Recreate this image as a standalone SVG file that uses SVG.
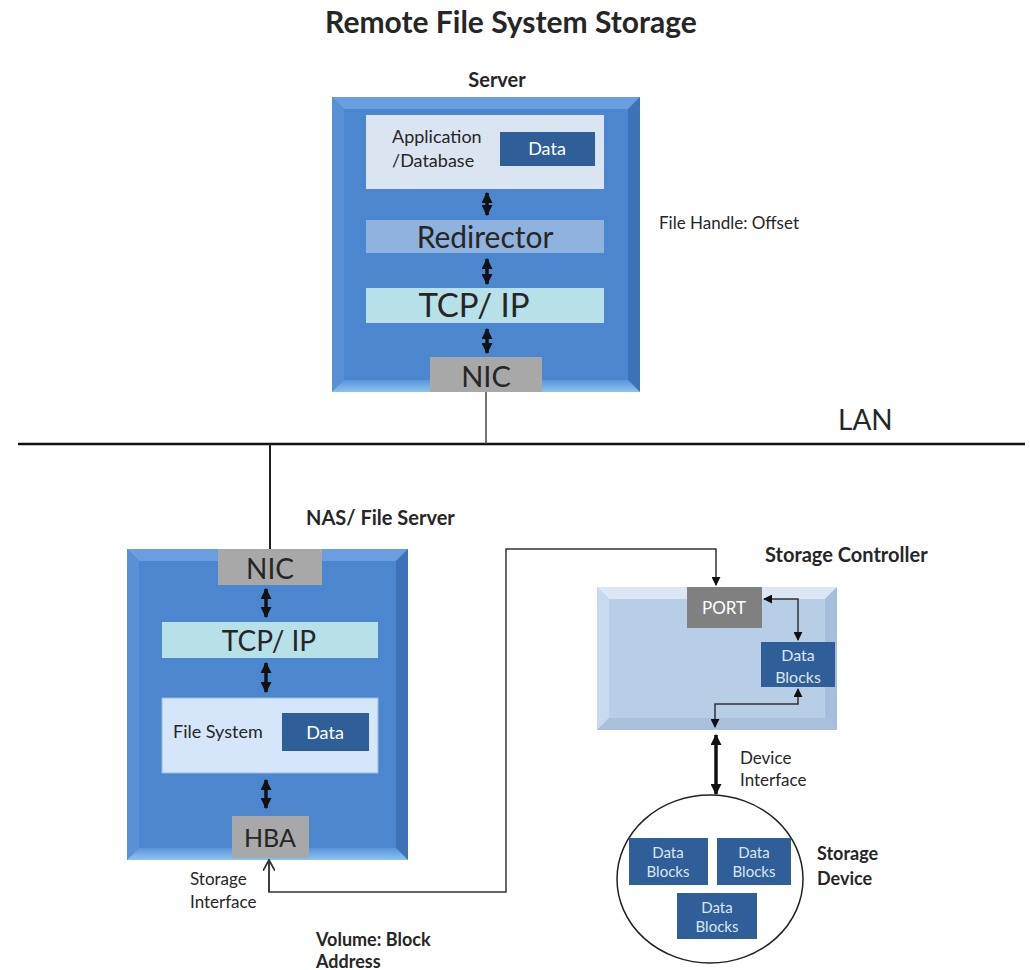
<svg xmlns="http://www.w3.org/2000/svg" width="1030" height="970" viewBox="0 0 1030 970">
<defs>
<style>
.t{font-family:Lato,"Open Sans","Liberation Sans",sans-serif;fill:#262626}
.b{font-weight:bold}
.c{text-anchor:middle}
.w{fill:#fff}
.lb{fill:#dce6f2}
.dark{fill:#2f5e98}
.conn{fill:none;stroke:#333;stroke-width:1.5}
.thick{fill:none;stroke:#111;stroke-width:3.5}
</style>
<marker id="ah" viewBox="0 0 10 10" refX="9" refY="5" markerWidth="9" markerHeight="9" markerUnits="userSpaceOnUse" orient="auto-start-reverse"><path d="M0,0 L10,5 L0,10 z" fill="#111"/></marker>
<marker id="tah" viewBox="0 0 10 10" refX="9" refY="5" markerWidth="11" markerHeight="11" markerUnits="userSpaceOnUse" orient="auto-start-reverse"><path d="M0,0 L10,5 L0,10 z" fill="#111"/></marker>
<marker id="open" viewBox="0 0 10 10" refX="9" refY="5" markerWidth="12" markerHeight="12" markerUnits="userSpaceOnUse" orient="auto"><path d="M0,0 L9,5 L0,10" fill="none" stroke="#333" stroke-width="1.5"/></marker>
<linearGradient id="botL" x1="0" y1="0" x2="0" y2="1"><stop offset="0" stop-color="#5b95dc"/><stop offset="1" stop-color="#8cc3f0"/></linearGradient>
</defs>
<rect width="1030" height="970" fill="#fff"/>

<text class="t b c" x="511" y="33" font-size="30">Remote File System Storage</text>

<g id="server">
<text class="t b c" x="497" y="87" font-size="20">Server</text>
<rect x="332" y="97" width="308" height="295" fill="#4c86cf"/>
<polygon points="332,97 640,97 628,109 344,109" fill="#6a9ede"/>
<polygon points="332,97 344,109 344,380 332,392" fill="#5a90d6"/>
<polygon points="640,97 640,392 628,380 628,109" fill="#3e72b8"/>
<polygon points="332,392 344,380 628,380 640,392" fill="url(#botL)"/>
<rect x="366" y="115" width="238" height="74" fill="#dbe5f2"/>
<text class="t" x="392" y="143" font-size="18">Application</text>
<text class="t" x="392" y="167" font-size="18">/Database</text>
<rect x="500" y="132" width="95" height="34" class="dark"/>
<text class="t c w" x="547" y="155" font-size="18">Data</text>
<rect x="366" y="220" width="238" height="33" fill="#8fb2de"/>
<text class="t c" x="485" y="248" font-size="30">Redirector</text>
<rect x="366" y="288" width="238" height="35" fill="#b7e0e8"/>
<text class="t c" x="474" y="317" font-size="33">TCP/ IP</text>
<rect x="430" y="357" width="112" height="35" fill="#a8a8a8"/>
<text class="t c" x="486" y="387" font-size="29">NIC</text>
</g>

<text class="t" x="659" y="229" font-size="17">File Handle: Offset</text>
<text class="t" x="838" y="430" font-size="28">LAN</text>

<g id="nas">
<text class="t b" x="306" y="525" font-size="20">NAS/ File Server</text>
<rect x="127" y="549" width="281" height="311" fill="#4c86cf"/>
<polygon points="127,549 408,549 396,561 139,561" fill="#6a9ede"/>
<polygon points="127,549 139,561 139,848 127,860" fill="#5a90d6"/>
<polygon points="408,549 408,860 396,848 396,561" fill="#3e72b8"/>
<polygon points="127,860 139,848 396,848 408,860" fill="url(#botL)"/>
<rect x="218" y="549" width="104" height="36" fill="#a8a8a8"/>
<text class="t c" x="270" y="579" font-size="28">NIC</text>
<rect x="162" y="622" width="216" height="36" fill="#b7e0e8"/>
<text class="t c" x="269" y="651" font-size="28">TCP/ IP</text>
<rect x="162" y="698" width="216" height="75" fill="#d6e6fa" stroke="#9fb8d8" stroke-width="1"/>
<text class="t" x="173" y="738" font-size="18">File System</text>
<rect x="282" y="713" width="87" height="38" class="dark"/>
<text class="t c w" x="325" y="739" font-size="18">Data</text>
<rect x="232" y="816" width="77" height="42" fill="#a8a8a8"/>
<text class="t c" x="270" y="847" font-size="25">HBA</text>
</g>

<g id="storage-controller">
<text class="t b" x="765" y="562" font-size="20">Storage Controller</text>
<rect x="597" y="587" width="240" height="143" fill="#b8cde6"/>
<polygon points="597,587 837,587 825,599 609,599" fill="#dbe7f4"/>
<polygon points="597,587 609,599 609,718 597,730" fill="#c9daee"/>
<polygon points="837,587 837,730 825,718 825,599" fill="#a6bddb"/>
<polygon points="597,730 609,718 825,718 837,730" fill="#a9bfdc"/>
<rect x="687" y="587" width="75" height="41" fill="#808080"/>
<text class="t c w" x="724" y="614" font-size="17">PORT</text>
<rect x="761" y="642" width="74" height="45" class="dark"/>
<text class="t c lb" x="798" y="661" font-size="16">Data</text>
<text class="t c lb" x="798" y="683" font-size="16">Blocks</text>
</g>

<text class="t" x="740" y="764" font-size="17">Device</text>
<text class="t" x="740" y="786" font-size="17">Interface</text>

<g id="storage-device">
<ellipse cx="710" cy="879" rx="93" ry="84" fill="#fff" stroke="#222" stroke-width="1.5"/>
<rect x="629" y="838" width="79" height="47" class="dark"/>
<text class="t c lb" x="668" y="858" font-size="15">Data</text>
<text class="t c lb" x="668" y="877" font-size="15">Blocks</text>
<rect x="717" y="838" width="74" height="47" class="dark"/>
<text class="t c lb" x="754" y="858" font-size="15">Data</text>
<text class="t c lb" x="754" y="877" font-size="15">Blocks</text>
<rect x="677" y="893" width="80" height="46" class="dark"/>
<text class="t c lb" x="717" y="913" font-size="15">Data</text>
<text class="t c lb" x="717" y="932" font-size="15">Blocks</text>
<text class="t b" x="817" y="860" font-size="18">Storage</text>
<text class="t b" x="817" y="885" font-size="18">Device</text>
</g>

<text class="t" x="190" y="885" font-size="17">Storage</text>
<text class="t" x="190" y="908" font-size="17">Interface</text>
<text class="t b" x="316" y="946" font-size="18">Volume: Block</text>
<text class="t b" x="316" y="968" font-size="18">Address</text>

<g id="connectors">
<line x1="18" y1="444" x2="1025" y2="444" stroke="#111" stroke-width="2.5"/>
<line x1="486" y1="392" x2="486" y2="444" stroke="#444" stroke-width="1.5"/>
<line x1="270" y1="444" x2="270" y2="549" stroke="#222" stroke-width="2"/>
<line x1="487" y1="193" x2="487" y2="215" class="thick" marker-start="url(#tah)" marker-end="url(#tah)"/>
<line x1="487" y1="259" x2="487" y2="284" class="thick" marker-start="url(#tah)" marker-end="url(#tah)"/>
<line x1="487" y1="329" x2="487" y2="353" class="thick" marker-start="url(#tah)" marker-end="url(#tah)"/>
<line x1="266" y1="589" x2="266" y2="617" class="thick" marker-start="url(#tah)" marker-end="url(#tah)"/>
<line x1="266" y1="663" x2="266" y2="692" class="thick" marker-start="url(#tah)" marker-end="url(#tah)"/>
<line x1="266" y1="780" x2="266" y2="808" class="thick" marker-start="url(#tah)" marker-end="url(#tah)"/>
<path d="M269,859 L269,892 L506,892 L506,549 L716,549 L716,585" class="conn" marker-end="url(#ah)"/>
<path d="M269,892 L269,860" class="conn" marker-end="url(#open)"/>
<path d="M764,599 L798,599 L798,640" class="conn" marker-start="url(#ah)" marker-end="url(#ah)"/>
<path d="M798,689 L798,704 L715,704 L715,727" class="conn" marker-start="url(#ah)" marker-end="url(#ah)"/>
<line x1="716" y1="735" x2="716" y2="794" class="thick" marker-start="url(#tah)" marker-end="url(#tah)"/>
</g>
</svg>
